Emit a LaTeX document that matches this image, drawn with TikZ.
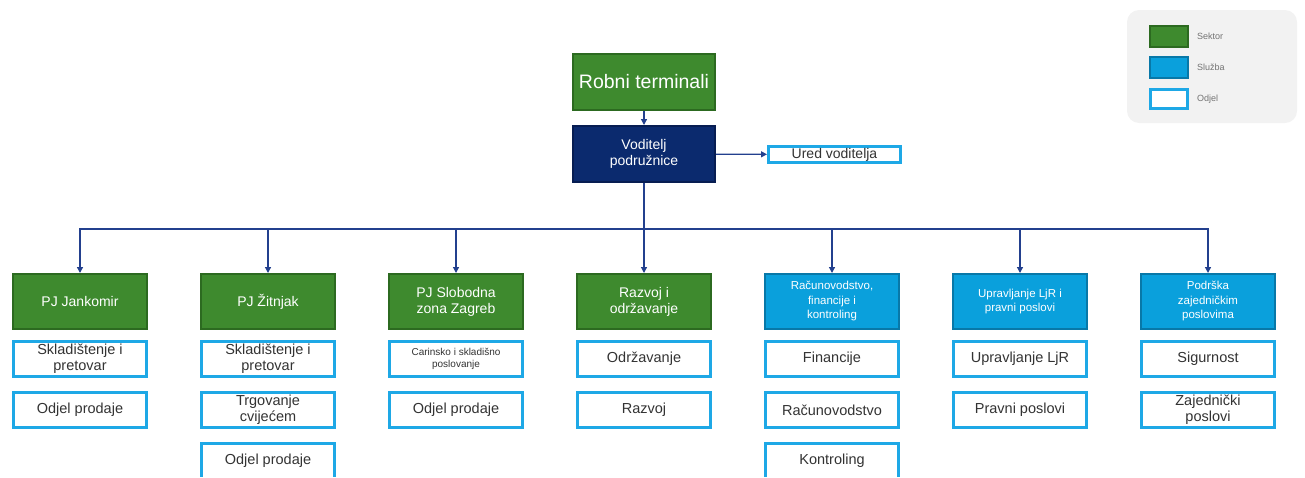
\documentclass[tikz,border=0pt]{standalone}
\usepackage{fontspec}
\setmainfont{Liberation Sans}
\usetikzlibrary{positioning,arrows.meta}
\definecolor{sektorgreen}{HTML}{3E8A2E}
\definecolor{sektorline}{HTML}{2C6A20}
\definecolor{voditeljblue}{HTML}{0B2A6E}
\definecolor{voditeljline}{HTML}{071D52}
\definecolor{sluzbablue}{HTML}{0AA0DC}
\definecolor{sluzbaline}{HTML}{0878A8}
\definecolor{odjelline}{HTML}{1EA8E6}
\definecolor{linkblue}{HTML}{23408E}
\definecolor{legendgray}{HTML}{F2F2F2}

\begin{document}
\begin{tikzpicture}[
x=1pt,y=-1pt,
every node/.style={align=center,inner sep=1pt},
sektor/.style={draw=sektorline,fill=sektorgreen,line width=2pt,text=white,
  minimum width=134pt,minimum height=55pt,font=\fontsize{14}{16}\selectfont},
sluzba/.style={sektor,draw=sluzbaline,fill=sluzbablue,font=\fontsize{11.5}{14.5}\selectfont},
odjel/.style={draw=odjelline,fill=white,line width=3pt,text=black!80,
  minimum width=133pt,minimum height=35pt,font=\fontsize{14.5}{16}\selectfont},
link/.style={draw=linkblue,line width=1.3pt,-{Triangle[length=6pt,width=6pt]}},
legendtext/.style={text=black!55,font=\fontsize{9}{11}\selectfont,inner sep=0pt},
]
\useasboundingbox (0,0) rectangle (1305,477);
\clip (0,0) rectangle (1305,476.5);

% legend
\draw[fill=legendgray,draw=none,rounded corners=12pt] (1127,10) rectangle (1297,123);
\node[sektor,minimum width=38pt,minimum height=21pt] (keysektor) at (1169,36.5) {};
\node[sluzba,minimum width=38pt,minimum height=21pt] (keysluzba) at (1169,67.5) {};
\node[odjel,minimum width=37pt,minimum height=19pt] (keyodjel) at (1169,99) {};
\node[legendtext,anchor=west] at ([xshift=8pt]keysektor.east) {Sektor};
\node[legendtext,anchor=west] at ([xshift=8pt]keysluzba.east) {Služba};
\node[legendtext,anchor=west] at ([xshift=8pt]keyodjel.east) {Odjel};

% top
\node[sektor,minimum width=142pt,minimum height=56pt,font=\fontsize{19.5}{22}\selectfont]
  (robni) at (644,82) {Robni terminali};
\node[sektor,draw=voditeljline,fill=voditeljblue,minimum width=142pt,minimum height=56pt]
  (voditelj) at (644,154) {Voditelj\\podružnice};
\node[odjel,minimum width=132pt,minimum height=16pt,inner sep=0pt,font=\fontsize{14}{16}\selectfont]
  (ured) at (834.5,154.5) {Ured voditelja};

% sektori i sluzbe
\node[sektor] (jankomir) at (80,301.5) {PJ Jankomir};
\node[sektor] (zitnjak) at (268,301.5) {PJ Žitnjak};
\node[sektor] (slobodna) at (456,301.5) {PJ Slobodna\\zona Zagreb};
\node[sektor] (razvoj) at (644,301.5) {Razvoj i\\održavanje};
\node[sluzba] (racun) at (832,301.5) {Računovodstvo,\\financije i\\kontroling};
\node[sluzba] (ljr) at (1020,301.5) {Upravljanje LjR i\\pravni poslovi};
\node[sluzba] (podrska) at (1208,301.5) {Podrška\\zajedničkim\\poslovima};

% odjeli
\node[odjel,below=10pt of jankomir] (jankomir1) {Skladištenje i\\pretovar};
\node[odjel,below=13pt of jankomir1] (jankomir2) {Odjel prodaje};

\node[odjel,below=10pt of zitnjak] (zitnjak1) {Skladištenje i\\pretovar};
\node[odjel,below=13pt of zitnjak1] (zitnjak2) {Trgovanje\\cvijećem};
\node[odjel,below=13pt of zitnjak2] (zitnjak3) {Odjel prodaje};

\node[odjel,below=10pt of slobodna,font=\fontsize{10}{12}\selectfont] (slobodna1) {Carinsko i skladišno\\poslovanje};
\node[odjel,below=13pt of slobodna1] (slobodna2) {Odjel prodaje};

\node[odjel,below=10pt of razvoj] (razvoj1) {Održavanje};
\node[odjel,below=13pt of razvoj1] (razvoj2) {Razvoj};

\node[odjel,below=10pt of racun] (racun1) {Financije};
\node[odjel,below=13pt of racun1] (racun2) {Računovodstvo};
\node[odjel,below=13pt of racun2] (racun3) {Kontroling};

\node[odjel,below=10pt of ljr] (ljr1) {Upravljanje LjR};
\node[odjel,below=13pt of ljr1] (ljr2) {Pravni poslovi};

\node[odjel,below=10pt of podrska] (podrska1) {Sigurnost};
\node[odjel,below=13pt of podrska1] (podrska2) {Zajednički\\poslovi};

% veze
\draw[link] (robni) -- (voditelj);
\draw[link] (voditelj) -- (ured);
\foreach \x in {jankomir,zitnjak,slobodna,razvoj,racun,ljr,podrska}
  \draw[link] (voditelj.south) -- ++(0,46) -| (\x.north);
\end{tikzpicture}
\end{document}
